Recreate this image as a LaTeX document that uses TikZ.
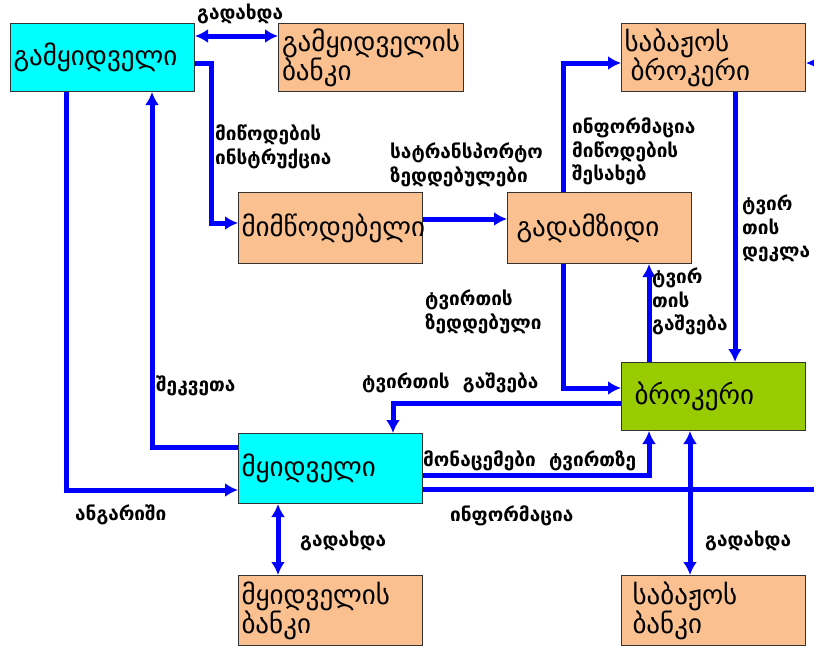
\documentclass[tikz,border=0pt]{standalone}
\usepackage{fontspec}
\newfontfamily\geo[Script=Georgian]{DejaVu Sans}
\usetikzlibrary{arrows.meta, calc}
\definecolor{peach}{RGB}{250,192,144}
\definecolor{aqua}{RGB}{0,255,255}
\definecolor{lime}{RGB}{153,204,0}
\definecolor{flow}{RGB}{0,0,255}
\tikzset{
  box/.style={draw=black!80, line width=1pt, anchor=north west, inner sep=3pt,
    minimum width=182pt, minimum height=68pt, align=left, text width=178pt, font=\geo\fontsize{27}{29}\selectfont},
  lbl/.style={anchor=north west, inner sep=0pt, align=left, font=\geo\bfseries\fontsize{19}{23.5}\selectfont},
  arr/.style={draw=flow, line width=5pt, -{Latex[length=13pt,width=14pt]}},
  dbl/.style={draw=flow, line width=5pt, {Latex[length=13pt,width=14pt]}-{Latex[length=13pt,width=14pt]}}
}
\begin{document}
\begin{tikzpicture}[x=1pt,y=-1pt]
    \useasboundingbox[fill=white] (0,0) rectangle (814,648);

    \node[box, fill=aqua] (seller) at (10,23) {გამყიდველი};
    \node[box, fill=peach, minimum width=185pt] (sellerbank) at (278,23) {გამყიდველის\\ბანკი};
    \node[box, fill=peach] (custbroker) at (621,23) {საბაჟოს\\\hspace*{6pt}ბროკერი};
    \node[box, fill=peach, minimum height=71pt] (supplier) at (238,192) {მიმწოდებელი};
    \node[box, fill=peach, minimum width=184pt, minimum height=71pt] (carrier) at (507,192) {\hspace*{6pt}გადამზიდი};
    \node[box, fill=lime] (broker) at (621,362) {\hspace*{10pt}ბროკერი};
    \node[box, fill=aqua, minimum height=70pt] (buyer) at (238,433) {მყიდველი};
    \node[box, fill=peach, minimum height=70pt] (buyerbank) at (238,575) {მყიდველის\\ბანკი};
    \node[box, fill=peach, minimum height=70pt] (custbank) at (621,575) {\hspace*{8pt}საბაჟოს\\\hspace*{8pt}ბანკი};
    \coordinate (rim) at (824,63);

    \draw[dbl] ([yshift=-13pt]seller.north east) -- ([yshift=-13pt]sellerbank.north west);
    \draw[arr] ([yshift=-40pt]seller.north east) -- ++(16,0) |- ([yshift=5pt]supplier.west);
    \draw[arr] ([yshift=9pt]supplier.east) -- ([yshift=9pt]carrier.west);
    \draw[arr] ([xshift=56pt]carrier.north west) |- ([yshift=-40pt]custbroker.north west);
    \draw[arr] ([xshift=114pt]custbroker.south west) -- ([xshift=114pt]broker.north west);
    \draw[arr] ([xshift=28pt]broker.north west) -- ([xshift=28pt]broker.north west |- carrier.south);
    \draw[arr] ([xshift=56pt]carrier.south west) |- ([yshift=-26pt]broker.north west);
    \draw[arr] ([yshift=-41pt]broker.north west) -| ([xshift=155pt]buyer.north west);
    \draw[arr] ([yshift=-14pt]buyer.north west) -| ([xshift=142pt]seller.south west);
    \draw[arr] ([xshift=56pt]seller.south west) |- ([yshift=-57pt]buyer.north west);
    \draw[arr] ([yshift=-42pt]buyer.north east) -| ([xshift=28pt]broker.south west);
    \draw[arr] ([yshift=-56pt]buyer.north east) -| (rim) -- ([yshift=-40pt]custbroker.north east);
    \draw[dbl] ([xshift=69pt]broker.south west) -- ([xshift=69pt]custbank.north west);
    \draw[dbl] ([xshift=40pt]buyer.south west) -- ([xshift=40pt]buyerbank.north west);

    \node[lbl] (paytop) at (197,4) {გადახდა};
    \node[lbl] (instr) at (215,125) {მიწოდების\\ინსტრუქცია};
    \node[lbl] (waybills) at (390,143) {სატრანსპორტო\\ზედდებულები};
    \node[lbl] (info) at (572,118) {ინფორმაცია\\მიწოდების\\შესახებ};
    \node[lbl] (decl) at (742,195) {ტვირ\\თის\\დეკლა};
    \node[lbl] (release) at (652,268) {ტვირ\\თის\\გაშვება};
    \node[lbl] (waybill) at (425,290) {ტვირთის\\ზედდებული};
    \node[lbl] (release2) at (362,373) {ტვირთის\ \ გაშვება};
    \node[lbl] (order) at (156,376) {შეკვეთა};
    \node[lbl] (cargo) at (423,451) {მონაცემები\ \ ტვირთზე};
    \node[lbl] (info2) at (450,506) {ინფორმაცია};
    \node[lbl] (invoice) at (75,505) {ანგარიში};
    \node[lbl] (paybuyer) at (300,531) {გადახდა};
    \node[lbl] (paycust) at (705,531) {გადახდა};
\end{tikzpicture}
\end{document}
